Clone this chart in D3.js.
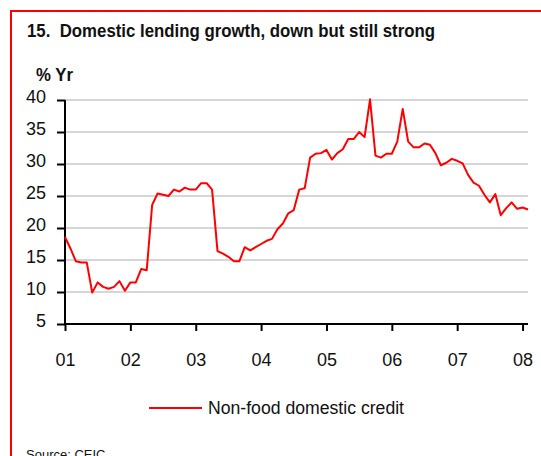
<!DOCTYPE html>
<html><head><meta charset="utf-8">
<script src="https://cdn.jsdelivr.net/npm/d3@7"></script>
<style>
html,body{margin:0;padding:0;background:#fff;}
text{font-family:"Liberation Sans",Arial,Helvetica,sans-serif;}
</style></head>
<body>
<svg id="chart" width="541" height="456"></svg>
<script>
// Monthly, Jan 2001 .. Feb 2008 (% yoy)
const values2001 = [18.6,16.8,14.8,14.6,14.6,9.9,11.5,10.8,10.5,10.8,11.7,10.2];
const values2002 = [11.5,11.5,13.6,13.4,23.6,25.4,25.2,25.0,26.0,25.7,26.3,26.0];
const values2003 = [26.0,27.0,27.0,26.0,16.4,16.0,15.5,14.8,14.8,17.0,16.5,17.0];
const values2004 = [17.5,18.0,18.3,19.8,20.7,22.3,22.8,26.0,26.2,31.0,31.6,31.7];
const values2005 = [32.2,30.7,31.7,32.3,33.9,33.9,35.0,34.2,40.1,31.3,31.0,31.6];
const values2006 = [31.6,33.5,38.6,33.5,32.6,32.6,33.2,33.0,31.7,29.8,30.2,30.8];
const values2007 = [30.5,30.1,28.3,27.1,26.6,25.2,24.0,25.3,22.0,23.1,24.0,23.0];
const values2008 = [23.2,22.9];
const series = [].concat(values2001,values2002,values2003,values2004,values2005,values2006,values2007,values2008);
const xTickLabels = ["01","02","03","04","05","06","07","08"];
const yTicks = [5,10,15,20,25,30,35,40];
const title = "15.  Domestic lending growth, down but still strong";
const unitLabel = "% Yr";
const seriesName = "Non-food domestic credit";
const sourceText = "Source: CEIC";

const svg = d3.select("#chart");
const pLeft = 65, pRight = 528, pTop = 100, pBottom = 324;

// frame
svg.append("rect").attr("x",11).attr("y",11).attr("width",570).attr("height",520)
  .attr("fill","none").attr("stroke","#ff0000").attr("stroke-width",2);

svg.append("text").attr("x",27).attr("y",37).attr("font-size",18).attr("font-weight","bold")
  .style("white-space","pre").attr("xml:space","preserve")
  .attr("textLength",408).attr("lengthAdjust","spacingAndGlyphs").attr("fill","#111").text(title);
svg.append("text").attr("x",36).attr("y",81).attr("font-size",18).attr("font-weight","bold")
  .attr("textLength",37).attr("lengthAdjust","spacingAndGlyphs").attr("fill","#111").text(unitLabel);

const x = d3.scaleLinear().domain([0, series.length-1]).range([pLeft, pRight]);
const y = d3.scaleLinear().domain([5, 40]).range([pBottom, pTop]);

// gridlines
svg.append("g").selectAll("line").data(yTicks.filter(d=>d>5)).join("line")
  .attr("x1",pLeft).attr("x2",pRight).attr("y1",d=>y(d)).attr("y2",d=>y(d))
  .attr("stroke","#c8c8c8").attr("stroke-width",1.5);

// y axis
const yAxis = svg.append("g").attr("transform",`translate(${pLeft},0)`)
  .call(d3.axisLeft(y).tickValues(yTicks).tickSize(8).tickPadding(11).tickFormat(d3.format("d")));
yAxis.select(".domain").remove();
yAxis.selectAll(".tick line").attr("stroke","#000").attr("stroke-width",2);
yAxis.selectAll(".tick text").attr("font-size",18).attr("fill","#111")
  .attr("font-family",'"Liberation Sans",Arial,sans-serif').attr("dy","0.32em").attr("y",-3);
svg.append("line").attr("x1",pLeft).attr("x2",pLeft).attr("y1",pTop).attr("y2",pBottom+1)
  .attr("stroke","#000").attr("stroke-width",2);

// x axis
const xAxis = svg.append("g").attr("transform",`translate(0,${pBottom})`)
  .call(d3.axisBottom(x).tickValues(xTickLabels.map((d,i)=>i*12)).tickSize(7).tickPadding(22)
    .tickFormat((d,i)=>xTickLabels[i]));
xAxis.select(".domain").remove();
xAxis.selectAll(".tick line").attr("stroke","#000").attr("stroke-width",2);
xAxis.selectAll(".tick text").attr("font-size",18).attr("fill","#111")
  .attr("font-family",'"Liberation Sans",Arial,sans-serif').attr("dy","0.71em");
svg.append("line").attr("x1",pLeft-1).attr("x2",pRight).attr("y1",pBottom).attr("y2",pBottom)
  .attr("stroke","#000").attr("stroke-width",2);

// series line
svg.append("path").datum(series)
  .attr("d", d3.line().x((d,i)=>x(i)).y(d=>y(d)))
  .attr("fill","none").attr("stroke","#ff0000").attr("stroke-width",2).attr("stroke-linejoin","round");

// legend
svg.append("line").attr("x1",149).attr("x2",202).attr("y1",408).attr("y2",408)
  .attr("stroke","#ff0000").attr("stroke-width",2);
svg.append("text").attr("x",208).attr("y",414).attr("font-size",18)
  .attr("textLength",196).attr("lengthAdjust","spacingAndGlyphs").attr("fill","#111").text(seriesName);

svg.append("text").attr("x",26).attr("y",459).attr("font-size",13).attr("fill","#111").text(sourceText);
</script>
</body></html>
